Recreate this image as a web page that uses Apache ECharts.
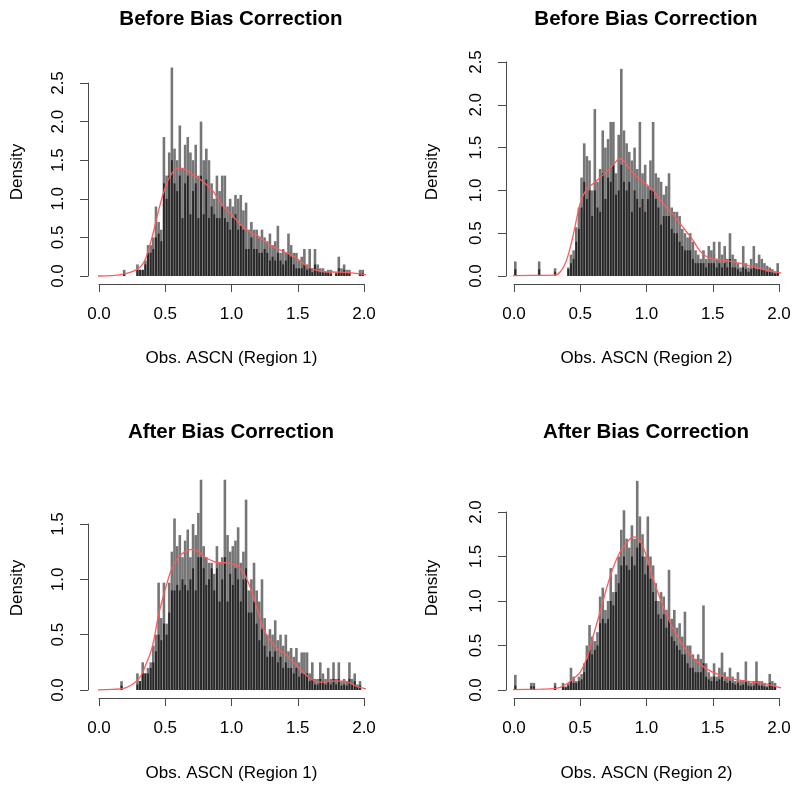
<!DOCTYPE html>
<html><head><meta charset="utf-8">
<script src="https://cdn.jsdelivr.net/npm/echarts@6/dist/echarts.min.js"></script>
<style>html,body{margin:0;padding:0;background:#fff}#c{width:800px;height:792px}</style>
</head><body><div id="c"></div>
<script>
// histogram bins: width 0.02 from 0 to 2
const binCenters = Array.from({length: 100}, (_, i) => Math.round((0.01 + 0.02 * i) * 100) / 100);
const xTickValues = [0.0, 0.5, 1.0, 1.5, 2.0];

// Panel 1: Before Bias Correction, Region 1
const p1Tall = [0,0,0,0,0,0,0,0,0,0.08, 0,0,0,0,0.15,0.08,0.08,0.2,0.4,0.4,
  0.5,0.9,0.7,0.6,1.8,1.3,1.6,2.7,1.65,1.5,
  1.95,1.4,1.7,1.8,1.6,1.5,1.7,1.3,2.0,1.5,
  1.65,1.5,1.2,1.0,1.3,1.1,1.3,1.3,0.9,1.0,
  0.9,1.05,1.0,1.05,0.85,0.95,0.6,0.7,0.6,0.6,
  0.5,0.6,0.5,0.45,0.55,0.4,0.45,0.65,0.3,0.35,
  0.3,0.55,0.4,0.3,0.3,0.2,0.25,0.35,0.15,0.35,
  0.1,0.35,0.15,0.1,0.1,0.05,0.08,0.08,0,0.05,
  0.25,0.1,0.15,0.08,0.08,0,0,0,0.08,0.08];
const p1Dark = [0,0,0,0,0,0,0,0,0,0.04, 0,0,0,0,0.08,0.08,0.08,0.15,0.3,0.3,
  0.35,0.5,0.55,0.45,1.2,1.0,1.3,1.5,1.2,1.1,
  1.3,0.75,1.2,1.3,0.8,1.1,1.2,0.75,1.3,0.8,
  1.25,0.75,0.9,0.8,0.75,0.75,0.9,0.75,0.7,0.6,
  0.75,0.8,0.6,0.65,0.6,0.35,0.35,0.5,0.35,0.35,
  0.3,0.3,0.35,0.3,0.2,0.25,0.2,0.3,0.2,0.15,
  0.2,0.3,0.25,0.15,0.1,0.1,0.1,0.15,0.08,0.1,
  0.05,0.15,0.08,0.05,0.05,0.05,0.05,0.03,0,0.03,
  0.1,0.05,0.08,0.04,0.04,0,0,0,0.04,0.04];
const p1DensX = [-0.03,0.1,0.2,0.3,0.35,0.4,0.45,0.5,0.55,0.6,0.65,0.7,0.75,0.8,0.85,0.9,0.95,1.0,1.05,1.1,1.15,1.2,1.25,1.3,1.35,1.4,1.45,1.5,1.55,1.6,1.65,1.7,1.8,1.9,2.0,2.08];
const p1DensY = [0.0,0.005,0.03,0.1,0.22,0.5,0.85,1.15,1.33,1.4,1.38,1.32,1.27,1.2,1.12,1.0,0.88,0.8,0.7,0.62,0.56,0.52,0.45,0.39,0.35,0.31,0.27,0.22,0.15,0.1,0.07,0.055,0.05,0.04,0.02,0.01];

// Panel 2: Before Bias Correction, Region 2
const p2Tall = [0.17,0,0,0,0,0,0,0,0,0.17, 0,0,0,0,0,0.09,0,0,0,0,
  0.1,0.25,0.3,0.57,0.8,1.15,1.55,1.4,1.35,1.0,
  1.95,1.1,1.25,1.7,1.5,1.6,1.8,1.8,1.2,1.65,
  2.42,1.7,1.55,1.45,1.35,1.5,1.25,1.8,1.2,1.3,
  1.05,1.35,1.8,1.2,1.15,1.1,0.95,1.05,1.2,0.8,
  0.75,0.75,0.7,0.55,0.5,0.45,0.5,0.4,0.3,0.25,
  0.2,0.3,0.2,0.35,0.3,0.4,0.2,0.4,0.25,0.35,
  0.2,0.5,0.25,0.2,0.15,0.1,0.35,0.15,0.1,0.2,
  0.35,0.15,0.25,0.2,0.15,0.12,0.1,0.08,0.05,0.15];
const p2Dark = [0.08,0,0,0,0,0,0,0,0,0.08, 0,0,0,0,0,0.05,0,0,0,0,
  0.08,0.15,0.2,0.4,0.55,0.8,1.1,0.9,1.0,0.7,
  1.0,0.8,0.75,1.2,0.9,1.15,1.1,1.3,0.95,1.0,
  1.3,1.1,1.0,1.1,0.75,1.0,0.9,0.8,0.9,0.75,
  0.9,1.0,1.0,0.9,0.8,0.6,0.7,0.7,0.7,0.55,
  0.5,0.5,0.4,0.35,0.3,0.3,0.3,0.2,0.15,0.15,
  0.15,0.15,0.1,0.15,0.15,0.15,0.1,0.15,0.1,0.15,
  0.1,0.2,0.1,0.1,0.08,0.05,0.1,0.08,0.05,0.08,
  0.1,0.08,0.08,0.08,0.08,0.05,0.05,0.04,0.03,0.05];
const p2DensX = [-0.08,0.0,0.3,0.35,0.4,0.45,0.5,0.55,0.6,0.65,0.7,0.75,0.8,0.85,0.9,0.95,1.0,1.05,1.1,1.15,1.2,1.25,1.3,1.35,1.4,1.45,1.5,1.55,1.6,1.7,1.8,1.9,2.0,2.08];
const p2DensY = [0.0,0.005,0.01,0.05,0.2,0.5,0.85,1.02,1.08,1.15,1.22,1.3,1.37,1.3,1.2,1.13,1.07,1.0,0.9,0.8,0.72,0.62,0.52,0.42,0.3,0.23,0.2,0.19,0.18,0.15,0.11,0.07,0.04,0.01];

// Panel 3: After Bias Correction, Region 1
const p3Tall = [0,0,0,0,0,0,0,0,0.08,0, 0,0,0,0,0.15,0.08,0.25,0.15,0.2,0.25,
  0.4,0.5,0.97,0.65,0.97,0.6,0.97,1.25,1.55,1.3,
  1.4,1.2,1.35,1.45,1.2,1.5,1.4,1.6,1.9,1.3,
  1.2,1.15,1.15,1.05,1.3,1.15,1.2,1.9,1.4,1.25,
  1.3,1.35,1.47,1.15,1.25,1.72,0.9,1.0,1.15,0.9,
  0.8,1.0,0.65,0.5,0.55,0.5,0.63,0.45,0.5,0.4,
  0.5,0.35,0.38,0.3,0.38,0.25,0.34,0.34,0.34,0.15,
  0.25,0.1,0.1,0.25,0.15,0.1,0.2,0.1,0.25,0.1,
  0.25,0.08,0.1,0.08,0.25,0.1,0.15,0.05,0.08,0];
const p3Dark = [0,0,0,0,0,0,0,0,0.04,0, 0,0,0,0,0.05,0.08,0.15,0.15,0.15,0.2,
  0.25,0.35,0.5,0.45,0.6,0.5,0.7,0.9,0.9,0.95,
  0.9,1.0,0.95,0.9,1.0,1.1,0.9,1.2,1.2,1.1,
  0.95,1.0,1.1,0.9,1.1,0.8,1.0,1.2,0.8,1.05,
  0.95,1.1,1.0,0.8,1.0,1.1,0.7,0.7,0.8,0.6,
  0.45,0.55,0.4,0.3,0.35,0.3,0.35,0.25,0.3,0.2,
  0.25,0.2,0.2,0.15,0.2,0.12,0.15,0.15,0.15,0.08,
  0.1,0.05,0.05,0.1,0.08,0.05,0.08,0.05,0.1,0.05,
  0.1,0.04,0.05,0.04,0.1,0.05,0.08,0.03,0.04,0];
const p3DensX = [-0.03,0.1,0.2,0.3,0.35,0.4,0.45,0.5,0.55,0.6,0.65,0.7,0.75,0.8,0.85,0.9,0.95,1.0,1.05,1.1,1.15,1.2,1.25,1.3,1.35,1.4,1.45,1.5,1.55,1.6,1.65,1.7,1.75,1.8,1.85,1.9,1.95,2.0,2.08];
const p3DensY = [0.0,0.005,0.02,0.1,0.22,0.38,0.68,0.91,1.1,1.2,1.25,1.27,1.25,1.2,1.17,1.15,1.15,1.14,1.12,1.04,0.9,0.71,0.53,0.44,0.37,0.33,0.27,0.21,0.15,0.1,0.075,0.07,0.08,0.08,0.08,0.06,0.03,0.015,0.005];

// Panel 4: After Bias Correction, Region 2
const p4Tall = [0.17,0,0,0,0,0,0.08,0.08,0,0, 0,0,0,0,0,0.08,0,0,0.08,0.04,
  0.08,0.25,0.15,0.1,0.15,0.18,0.3,0.5,0.73,0.6,
  0.55,0.65,1.05,1.15,0.9,1.0,1.37,1.1,1.3,1.5,
  1.8,2.02,1.7,1.6,1.85,1.7,2.35,1.95,1.75,1.5,
  1.95,1.5,1.4,1.2,1.0,1.1,1.05,0.9,1.35,0.8,
  0.9,0.7,0.75,0.6,0.88,0.5,0.5,0.4,0.35,0.4,
  0.35,0.95,0.3,0.2,0.15,0.3,0.15,0.25,0.42,0.2,
  0.15,0.25,0.15,0.1,0.2,0.1,0.1,0.32,0.1,0.08,
  0.1,0.32,0.1,0.1,0.08,0.05,0.18,0.1,0.08,0];
const p4Dark = [0.05,0,0,0,0,0,0.04,0.04,0,0, 0,0,0,0,0,0.04,0,0,0.04,0.03,
  0.05,0.1,0.08,0.08,0.1,0.12,0.2,0.35,0.45,0.4,
  0.45,0.5,0.75,0.8,0.75,0.8,1.0,0.95,1.1,1.2,
  1.4,1.5,1.4,1.35,1.5,1.4,1.6,1.65,1.5,1.3,
  1.4,1.25,1.1,1.0,0.85,0.8,0.85,0.7,0.8,0.6,
  0.55,0.5,0.45,0.4,0.4,0.3,0.25,0.25,0.2,0.2,
  0.2,0.3,0.15,0.12,0.1,0.15,0.1,0.12,0.15,0.1,
  0.08,0.1,0.08,0.06,0.08,0.05,0.06,0.1,0.05,0.04,
  0.05,0.1,0.05,0.05,0.04,0.03,0.08,0.05,0.04,0];
const p4DensX = [-0.08,0.0,0.2,0.3,0.35,0.4,0.45,0.5,0.55,0.6,0.65,0.7,0.75,0.8,0.85,0.9,0.95,1.0,1.05,1.1,1.15,1.2,1.25,1.3,1.35,1.4,1.45,1.5,1.55,1.6,1.7,1.8,1.9,2.0,2.08];
const p4DensY = [0.0,0.005,0.01,0.015,0.03,0.07,0.13,0.2,0.36,0.62,0.88,1.15,1.38,1.55,1.65,1.72,1.68,1.5,1.25,1.04,0.86,0.69,0.56,0.45,0.36,0.3,0.24,0.2,0.17,0.14,0.11,0.09,0.07,0.03,0.01];

const titles = ['Before Bias Correction','Before Bias Correction','After Bias Correction','After Bias Correction'];
const xNames = ['Obs. ASCN (Region 1)','Obs. ASCN (Region 2)','Obs. ASCN (Region 1)','Obs. ASCN (Region 2)'];
const yName = 'Density';

const FONT = '"Liberation Sans", Arial, Helvetica, sans-serif';
const layout = [
  {left: 99, top: 83, height: 193, yMax: 2.5, yOff: 11, titleX: 231, titleY: 19.5, nameX: 17, nameY: 172, xNameY: 358},
  {left: 514, top: 62, height: 214, yMax: 2.5, yOff: 8, titleX: 646, titleY: 19.5, nameX: 432, nameY: 172, xNameY: 358},
  {left: 99, top: 524, height: 166, yMax: 1.5, yOff: 11, titleX: 231, titleY: 432.5, nameX: 17, nameY: 588, xNameY: 773},
  {left: 514, top: 512, height: 178, yMax: 2.0, yOff: 8, titleX: 646, titleY: 432.5, nameX: 432, nameY: 588, xNameY: 773}
];
const panelData = [
  {tall: p1Tall, dark: p1Dark, dx: p1DensX, dy: p1DensY},
  {tall: p2Tall, dark: p2Dark, dx: p2DensX, dy: p2DensY},
  {tall: p3Tall, dark: p3Dark, dx: p3DensX, dy: p3DensY},
  {tall: p4Tall, dark: p4Dark, dx: p4DensX, dy: p4DensY}
];

const grid = [], xAxis = [], yAxis = [], series = [], graphic = [];
const axisColor = '#4a4a4a';
layout.forEach((L, k) => {
  grid.push({left: L.left, top: L.top, width: 265, height: L.height, containLabel: false});
  xAxis.push({
    gridIndex: k, type: 'value', min: 0, max: 2, interval: 0.5, offset: 8,
    axisLine: {show: true, onZero: false, lineStyle: {color: axisColor, width: 1}},
    axisTick: {show: true, length: 8, lineStyle: {color: axisColor}},
    axisLabel: {show: true, margin: 22, fontSize: 17, color: '#000', fontFamily: FONT,
      formatter: v => v.toFixed(1)},
    splitLine: {show: false}
  });
  // hidden twin axis for the dark layer, so both layers stay centred on each bin
  xAxis.push({
    gridIndex: k, type: 'value', min: 0, max: 2, show: false, splitLine: {show: false},
    axisLine: {onZero: false}
  });
  yAxis.push({
    gridIndex: k, type: 'value', min: 0, max: L.yMax, interval: 0.5, offset: L.yOff,
    axisLine: {show: true, onZero: false, lineStyle: {color: axisColor, width: 1}},
    axisTick: {show: true, length: 8, lineStyle: {color: axisColor}},
    axisLabel: {show: true, rotate: 90, margin: 21, fontSize: 17, color: '#000', fontFamily: FONT,
      formatter: v => v.toFixed(1)},
    splitLine: {show: false}
  });
  const D = panelData[k];
  series.push({
    type: 'bar', xAxisIndex: 2 * k, yAxisIndex: k, barWidth: 2.6, clip: false, silent: true,
    itemStyle: {color: '#767676'},
    data: binCenters.map((c, i) => [c, D.tall[i]])
  });
  series.push({
    type: 'bar', xAxisIndex: 2 * k + 1, yAxisIndex: k, barWidth: 1.9, clip: false, silent: true,
    itemStyle: {color: '#262626'},
    data: binCenters.map((c, i) => [c, D.dark[i]])
  });
  series.push({
    type: 'line', xAxisIndex: 2 * k, yAxisIndex: k, clip: false, silent: true, z: 5,
    smooth: 0.4, showSymbol: false, symbol: 'none',
    lineStyle: {color: '#ff5a5a', width: 1.3},
    data: D.dx.map((x, i) => [x, D.dy[i]])
  });
  graphic.push({type: 'text', x: L.titleX, y: L.titleY, silent: true,
    style: {text: titles[k], font: 'bold 20.5px ' + FONT, fill: '#000',
      align: 'center', verticalAlign: 'middle', textAlign: 'center', textVerticalAlign: 'middle'}});
  graphic.push({type: 'text', x: L.left + 132.5, y: L.xNameY, silent: true,
    style: {text: xNames[k], font: '17px ' + FONT, fill: '#000',
      align: 'center', verticalAlign: 'middle', textAlign: 'center', textVerticalAlign: 'middle'}});
  graphic.push({type: 'text', x: L.nameX, y: L.nameY, rotation: Math.PI / 2, silent: true,
    style: {text: yName, font: '17px ' + FONT, fill: '#000',
      align: 'center', verticalAlign: 'middle', textAlign: 'center', textVerticalAlign: 'middle'}});
});

const chart = echarts.init(document.getElementById('c'), null, {renderer: 'canvas'});
chart.setOption({
  animation: false,
  backgroundColor: '#fff',
  textStyle: {fontFamily: FONT},
  grid, xAxis, yAxis, series, graphic
});
</script>
</body></html>
